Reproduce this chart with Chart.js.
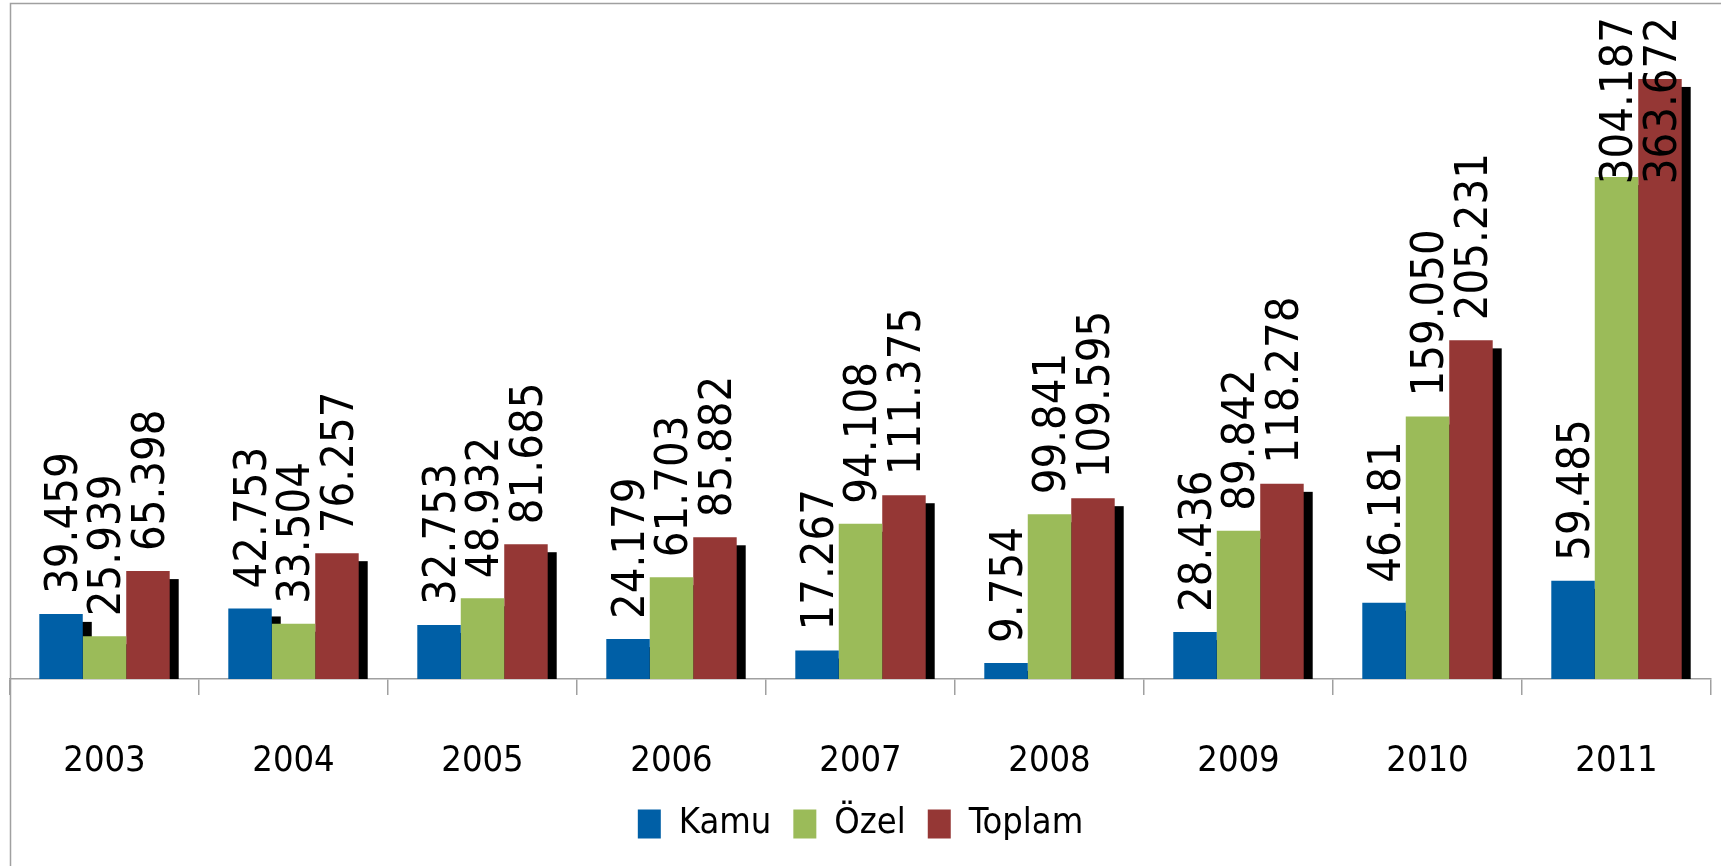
<!DOCTYPE html>
<html>
<head>
<meta charset="utf-8">
<script src="https://cdn.jsdelivr.net/npm/chart.js@4.4.1/dist/chart.umd.min.js"></script>
<style>
  html, body { margin: 0; padding: 0; background: #fff; }
  #wrap { width: 1721px; height: 866px; }
</style>
</head>
<body>
<div id="wrap"><canvas id="chart"></canvas></div>
<script>
// données
const years = ['2003', '2004', '2005', '2006', '2007', '2008', '2009', '2010', '2011'];
const kamu = [39459, 42753, 32753, 24179, 17267, 9754, 28436, 46181, 59485];
const ozel = [25939, 33504, 48932, 61703, 94108, 99841, 89842, 159050, 304187];
const toplam = [65398, 76257, 81685, 85882, 111375, 109595, 118278, 205231, 363672];

const FONT = "'DejaVu Sans Condensed', 'DejaVu Sans', sans-serif";

function fmt(v) {
    return String(v).replace(/\B(?=(\d{3})+(?!\d))/g, '.');
}

// cadre gris (haut + gauche)
const framePlugin = {
    id: 'frame',
    beforeDraw(chart) {
        const ctx = chart.ctx;
        ctx.save();
        ctx.strokeStyle = '#a0a0a0';
        ctx.lineWidth = 1.5;
        ctx.beginPath();
        ctx.moveTo(10.5, 866);
        ctx.lineTo(10.5, 3.5);
        ctx.lineTo(1721, 3.5);
        ctx.stroke();
        ctx.restore();
    }
};

// ombre noire derrière les barres
const shadowPlugin = {
    id: 'shadow',
    beforeDatasetsDraw(chart) {
        const ctx = chart.ctx;
        const area = chart.chartArea;
        ctx.save();
        ctx.beginPath();
        ctx.rect(area.left, 0, area.right - area.left + 20, area.bottom);
        ctx.clip();
        ctx.fillStyle = '#000';
        chart.data.datasets.forEach((ds, i) => {
            chart.getDatasetMeta(i).data.forEach(bar => {
                ctx.fillRect(bar.x - bar.width / 2 + 9, bar.y + 8, bar.width, bar.base - bar.y);
            });
        });
        ctx.restore();
    }
};

// étiquettes verticales
const labelPlugin = {
    id: 'vlabels',
    afterDatasetsDraw(chart) {
        const ctx = chart.ctx;
        ctx.save();
        ctx.font = '45px ' + FONT;
        ctx.fillStyle = '#000';
        ctx.textAlign = 'left';
        ctx.textBaseline = 'middle';
        chart.data.datasets.forEach((ds, i) => {
            chart.getDatasetMeta(i).data.forEach((bar, j) => {
                const txt = fmt(ds.data[j]);
                const w = ctx.measureText(txt).width;
                let y0 = bar.y - 20;
                if (y0 - w < 17) y0 = 17 + w;
                ctx.save();
                ctx.translate(bar.x + 4, y0);
                ctx.rotate(-Math.PI / 2);
                ctx.fillText(txt, 0, 0);
                ctx.restore();
            });
        });
        ctx.restore();
    }
};

const ctx = document.getElementById('chart').getContext('2d');
new Chart(ctx, {
    type: 'bar',
    data: {
        labels: years,
        datasets: [
            { label: 'Kamu', data: kamu, backgroundColor: '#005fa6' },
            { label: 'Özel', data: ozel, backgroundColor: '#9bbb59' },
            { label: 'Toplam', data: toplam, backgroundColor: '#953735' }
        ]
    },
    options: {
        responsive: true,
        maintainAspectRatio: false,
        animation: false,
        categoryPercentage: 0.69,
        barPercentage: 1.0,
        layout: { padding: { left: 10, right: 10, top: 19, bottom: 14 } },
        plugins: {
            tooltip: { enabled: false },
            legend: {
                position: 'bottom',
                labels: {
                    color: '#000',
                    boxWidth: 23,
                    boxHeight: 29,
                    padding: 22,
                    font: { family: FONT, size: 36 }
                }
            }
        },
        scales: {
            x: {
                afterFit(scale) { scale.height = 105; },
                grid: {
                    offset: true,
                    drawOnChartArea: false,
                    drawTicks: true,
                    tickLength: 16,
                    color: '#a0a0a0',
                    lineWidth: 1.5
                },
                border: { display: true, color: '#a0a0a0', width: 1.5 },
                ticks: {
                    color: '#000',
                    padding: 45,
                    font: { family: FONT, size: 36 }
                }
            },
            y: {
                display: false,
                min: 0,
                max: 400000
            }
        }
    },
    plugins: [framePlugin, shadowPlugin, labelPlugin]
});
</script>
</body>
</html>
